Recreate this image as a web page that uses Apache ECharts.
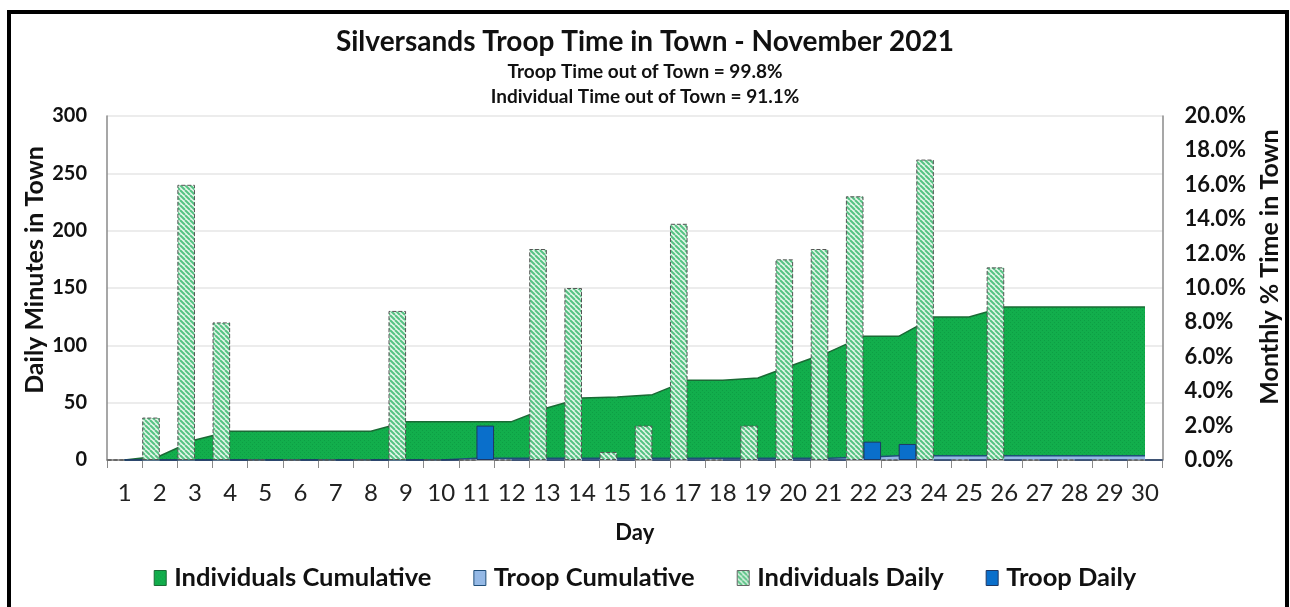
<!DOCTYPE html>
<html>
<head>
<meta charset="utf-8">
<script src="https://cdn.jsdelivr.net/npm/echarts@6/dist/echarts.min.js"></script>
<style>
  html, body { margin: 0; padding: 0; background: #fff; }
  #wrap { position: relative; width: 1290px; height: 607px; overflow: hidden; }
  #chart { position: absolute; left: 0; top: 0; width: 1290px; height: 607px; }
  #frame { position: absolute; left: 7px; top: 10px; width: 1274px; height: 620px;
           border: 4px solid #000; pointer-events: none; }
</style>
</head>
<body>
<div id="wrap"><div id="chart"></div><div id="frame"></div></div>
<script>
// ---- data ----
const days = ['1','2','3','4','5','6','7','8','9','10','11','12','13','14','15','16','17','18','19','20','21','22','23','24','25','26','27','28','29','30'];
const individualsDaily = [0,37,240,120,0,0,0,0,130,0,0,0,184,150,7,30,206,0,30,175,184,230,0,262,0,168,0,0,0,0];
const troopDaily       = [0,0,0,0,0,0,0,0,0,0,30,0,0,0,0,0,0,0,0,0,0,16,14,0,0,0,0,0,0,0];
const individualsCumulativePct = [0,0.23,1.16,1.67,1.67,1.67,1.67,1.67,2.23,2.23,2.23,2.23,3.02,3.60,3.66,3.80,4.63,4.63,4.77,5.52,6.26,7.19,7.19,8.31,8.31,8.9,8.9,8.9,8.9,8.9];
const troopCumulativePct       = [0,0,0,0,0,0,0,0,0,0,0.10,0.10,0.10,0.10,0.10,0.10,0.10,0.10,0.10,0.10,0.10,0.16,0.24,0.24,0.24,0.24,0.24,0.24,0.24,0.24];
const leftTicks = { min: 0, max: 300, interval: 50 };
const rightTicks = { min: 0, max: 20, interval: 2 };
const titleText = 'Silversands Troop Time in Town - November 2021';
const sub1 = 'Troop Time out of Town = 99.8%';
const sub2 = 'Individual Time out of Town = 91.1%';
const seriesNames = ['Individuals Cumulative','Troop Cumulative','Individuals Daily','Troop Daily'];

// ---- patterns ----
function hatchPattern() {
  const c = document.createElement('canvas'); c.width = 5; c.height = 5;
  const g = c.getContext('2d');
  g.fillStyle = '#E6F6EA'; g.fillRect(0,0,5,5);
  g.strokeStyle = '#55C283'; g.lineWidth = 2.0;
  for (const o of [-5, 0, 5]) { g.beginPath(); g.moveTo(o, 0); g.lineTo(o + 5, 5); g.stroke(); }
  return { image: c, repeat: 'repeat' };
}
function dotPattern() {
  const c = document.createElement('canvas'); c.width = 4; c.height = 4;
  const g = c.getContext('2d');
  g.fillStyle = '#12AE4C'; g.fillRect(0,0,4,4);
  g.fillStyle = '#0D9E44'; g.fillRect(0,0,1,1); g.fillRect(2,2,1,1);
  return { image: c, repeat: 'repeat' };
}
const hatch = hatchPattern();
const dots = dotPattern();
const FONT = 'Lato';

const chart = echarts.init(document.getElementById('chart'), null, { renderer: 'canvas' });
chart.setOption({
  animation: false,
  backgroundColor: '#fff',
  textStyle: { fontFamily: FONT },
  title: [
    { text: titleText, left: 'center', top: 23, textStyle: { fontFamily: FONT, fontSize: 28, fontWeight: 'bold', color: '#111' } },
    { text: sub1, left: 'center', top: 57, textStyle: { fontFamily: FONT, fontSize: 19, fontWeight: 'bold', color: '#111' } },
    { text: sub2, left: 'center', top: 82, textStyle: { fontFamily: FONT, fontSize: 19, fontWeight: 'bold', color: '#111' } }
  ],
  legend: {
    bottom: 11, left: 'center', icon: 'rect', itemWidth: 12, itemHeight: 15, itemGap: 42,
    textStyle: { fontFamily: FONT, fontSize: 25.5, fontWeight: 'bold', color: '#111', padding: [0,0,0,3] },
    data: [
      { name: seriesNames[0], itemStyle: { color: dots, borderColor: '#1A6B35', borderWidth: 1 } },
      { name: seriesNames[1], itemStyle: { color: '#95B9E6', borderColor: '#1F4E79', borderWidth: 1 } },
      { name: seriesNames[2], itemStyle: { color: hatch, borderColor: '#666', borderWidth: 1 } },
      { name: seriesNames[3], itemStyle: { color: '#0A6FCB', borderColor: '#1F3864', borderWidth: 1 } }
    ]
  },
  grid: { left: 107, right: 124, top: 116, bottom: 147, containLabel: false },
  xAxis: {
    type: 'category', data: days, boundaryGap: true,
    name: 'Day', nameLocation: 'middle', nameGap: 62,
    nameTextStyle: { fontFamily: FONT, fontSize: 22, fontWeight: 'bold', color: '#111' },
    axisLine: { lineStyle: { color: '#8a8a8a', width: 1.5 } },
    axisTick: { show: true, interval: 0, length: 8, lineStyle: { color: '#8a8a8a' } },
    axisLabel: { interval: 0, fontFamily: FONT, fontSize: 24, color: '#222', margin: 21 }
  },
  yAxis: [
    {
      type: 'value', min: leftTicks.min, max: leftTicks.max, interval: leftTicks.interval,
      name: 'Daily Minutes in Town', nameLocation: 'middle', nameGap: 60, nameMoveOverlap: false,
      nameTextStyle: { fontFamily: FONT, fontSize: 25, fontWeight: 'bold', color: '#111', padding: [0,0,0,36] },
      axisLine: { show: true, lineStyle: { color: '#8a8a8a', width: 1.5 } },
      axisTick: { show: false },
      axisLabel: { fontFamily: FONT, fontSize: 20, fontWeight: 'bold', color: '#111', margin: 20 },
      splitLine: { show: true, lineStyle: { color: '#e6e6e6', width: 1.5 } }
    },
    {
      type: 'value', min: rightTicks.min, max: rightTicks.max, interval: rightTicks.interval,
      name: 'Monthly % Time in Town', nameLocation: 'middle', nameGap: 93,
      nameTextStyle: { fontFamily: FONT, fontSize: 25, fontWeight: 'bold', color: '#111', padding: [0,0,0,42] },
      axisLine: { show: true, lineStyle: { color: '#8a8a8a', width: 1.5 } },
      axisTick: { show: false },
      axisLabel: { fontFamily: FONT, fontSize: 22, fontWeight: 'bold', color: '#111', margin: 22,
                   formatter: v => v.toFixed(1) + '%' },
      splitLine: { show: false }
    }
  ],
  series: [
    {
      name: seriesNames[0], type: 'line', yAxisIndex: 1, data: individualsCumulativePct,
      symbol: 'none', z: 1,
      lineStyle: { color: '#1A6B35', width: 1.5 },
      itemStyle: { color: '#12AE4C' },
      areaStyle: { color: dots, opacity: 1 }
    },
    {
      name: seriesNames[1], type: 'line', yAxisIndex: 1, data: troopCumulativePct,
      symbol: 'none', z: 1,
      lineStyle: { color: '#1F4E79', width: 1.5 },
      itemStyle: { color: '#95B9E6' },
      areaStyle: { color: '#95B9E6', opacity: 1 }
    },
    {
      name: seriesNames[2], type: 'bar', yAxisIndex: 0, data: individualsDaily,
      barGap: '0%', barCategoryGap: '0%', z: 3,
      itemStyle: { color: hatch, borderColor: '#555', borderWidth: 1, borderType: 'dashed' }
    },
    {
      name: seriesNames[3], type: 'bar', yAxisIndex: 0, data: troopDaily,
      barGap: '0%', barCategoryGap: '0%', z: 3,
      itemStyle: { color: '#0A6FCB', borderColor: '#1F3864', borderWidth: 1 }
    }
  ]
});
</script>
</body>
</html>
